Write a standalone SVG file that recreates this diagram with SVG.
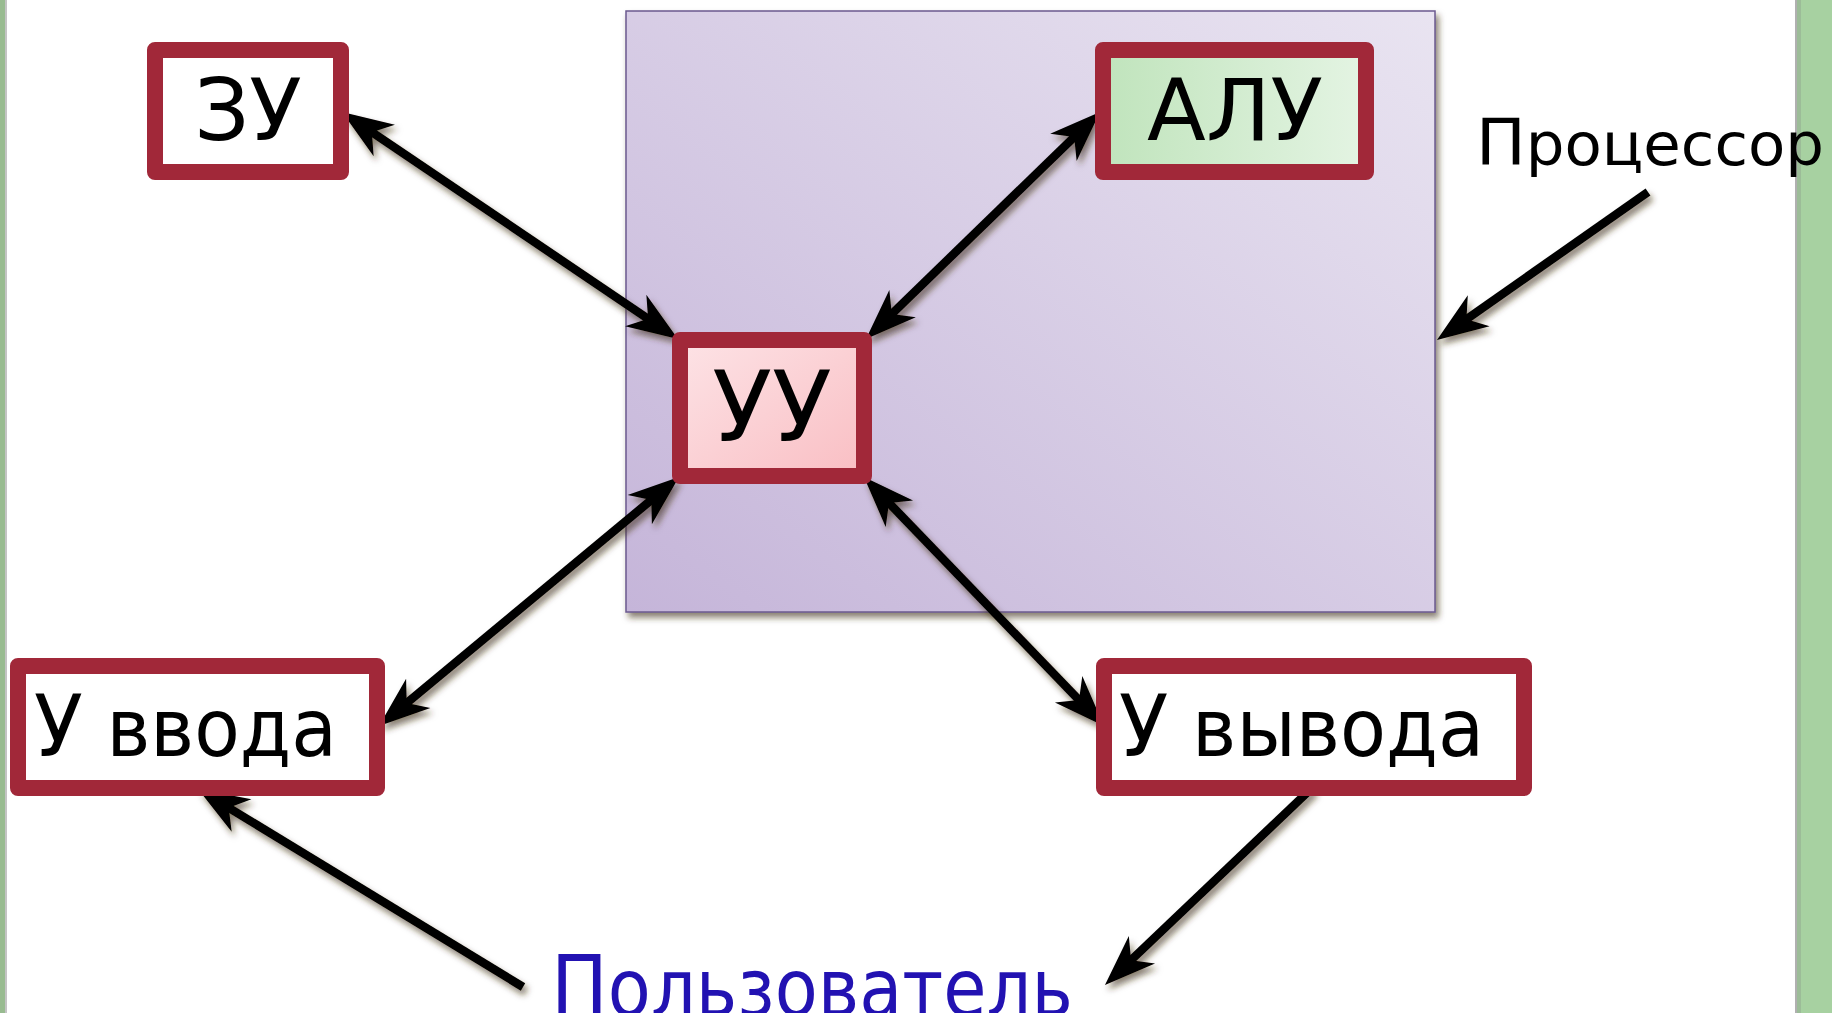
<svg xmlns="http://www.w3.org/2000/svg" width="1832" height="1013" viewBox="0 0 1832 1013">
  <defs>
    <style>
      .box { stroke: #a12839; stroke-width: 16; stroke-linejoin: round; }
      .lbl { font-family: "DejaVu Sans", Verdana, sans-serif; fill: #000; }
      .conn { fill: none; stroke: #000; stroke-width: 8.5; }
    </style>
    <linearGradient id="gProc" x1="0" y1="1" x2="1" y2="0">
      <stop offset="0" stop-color="#c5b5d9"/>
      <stop offset="1" stop-color="#e9e4f1"/>
    </linearGradient>
    <linearGradient id="gAlu" x1="0" y1="0" x2="1" y2="0">
      <stop offset="0" stop-color="#c0e4bc"/>
      <stop offset="1" stop-color="#e4f4e3"/>
    </linearGradient>
    <linearGradient id="gUu" x1="0" y1="0" x2="1" y2="1">
      <stop offset="0" stop-color="#fde3e6"/>
      <stop offset="1" stop-color="#f9bec3"/>
    </linearGradient>
    <filter id="shadow" x="-10%" y="-10%" width="130%" height="130%">
      <feDropShadow dx="3" dy="5" stdDeviation="3" flood-color="#3a2a18" flood-opacity="0.6"/>
    </filter>
    <marker id="ah" markerUnits="userSpaceOnUse" markerWidth="90" markerHeight="90" refX="0" refY="0" orient="auto-start-reverse" overflow="visible">
      <path d="M13,0 L-38,-19 L-23,0 L-38,19 Z" fill="#000"/>
    </marker>
  </defs>

  <rect x="0" y="0" width="1832" height="1013" fill="#ffffff"/>

  <!-- side strips -->
  <rect x="0" y="0" width="5" height="1013" fill="#98bb90"/>
  <rect x="5" y="0" width="2" height="1013" fill="#c4c4c4"/>
  <rect x="1795" y="0" width="2" height="1013" fill="#b0b0b0"/>
  <rect x="1797" y="0" width="35" height="1013" fill="#a7d1a1"/>
  <rect x="1797" y="0" width="4" height="1013" fill="#9cbc98"/>

  <!-- processor -->
  <g id="processor">
    <rect x="626" y="11" width="809" height="601" fill="url(#gProc)" stroke="#6b5a8e" stroke-width="1.5" filter="url(#shadow)"/>
  </g>

  <g id="connectors" filter="url(#shadow)">
    <path class="conn" d="M352.8,119.3 L667.2,331.7" marker-start="url(#ah)" marker-end="url(#ah)"/>
    <path class="conn" d="M1090.7,121 L875.3,330" marker-start="url(#ah)" marker-end="url(#ah)"/>
    <path class="conn" d="M669,485.3 L389,717.7" marker-start="url(#ah)" marker-end="url(#ah)"/>
    <path class="conn" d="M873,486.4 L1095,716.6" marker-start="url(#ah)" marker-end="url(#ah)"/>
    <path class="conn" d="M1648,192 L1447.6,332.5" marker-end="url(#ah)"/>
    <path class="conn" d="M523,987 L209.1,795.8" marker-end="url(#ah)"/>
    <path class="conn" d="M1312,788 L1114.4,976" marker-end="url(#ah)"/>
  </g>

  <g id="zu">
    <rect class="box" x="155" y="50" width="186" height="122" fill="#ffffff"/>
    <text class="lbl" x="248" y="140" font-size="86" text-anchor="middle">ЗУ</text>
  </g>

  <g id="alu">
    <rect class="box" x="1103" y="50" width="263" height="122" fill="url(#gAlu)"/>
    <text class="lbl" x="1235" y="140" font-size="86" text-anchor="middle">АЛУ</text>
  </g>

  <g id="uu">
    <rect class="box" x="680" y="340" width="184" height="136" fill="url(#gUu)"/>
    <text class="lbl" x="772" y="441" font-size="98" text-anchor="middle">УУ</text>
  </g>

  <g id="input">
    <rect class="box" x="18" y="666" width="359" height="122" fill="#ffffff"/>
    <text class="lbl" x="34" y="756" textLength="303" lengthAdjust="spacingAndGlyphs"><tspan font-size="86">У</tspan><tspan font-size="80"> ввода</tspan></text>
  </g>

  <g id="output">
    <rect class="box" x="1104" y="666" width="420" height="122" fill="#ffffff"/>
    <text class="lbl" x="1119" y="756" textLength="365" lengthAdjust="spacingAndGlyphs"><tspan font-size="86">У</tspan><tspan font-size="80"> вывода</tspan></text>
  </g>

  <g id="processor-label">
    <text class="lbl" x="1476" y="165" textLength="348" lengthAdjust="spacingAndGlyphs"><tspan font-size="64">П</tspan><tspan font-size="59">роцессор</tspan></text>
  </g>

  <g id="user">
    <text class="lbl" x="551" y="1016" textLength="522" lengthAdjust="spacingAndGlyphs" style="fill:#2212b2"><tspan font-size="86">П</tspan><tspan font-size="80">ользователь</tspan></text>
  </g>
</svg>
